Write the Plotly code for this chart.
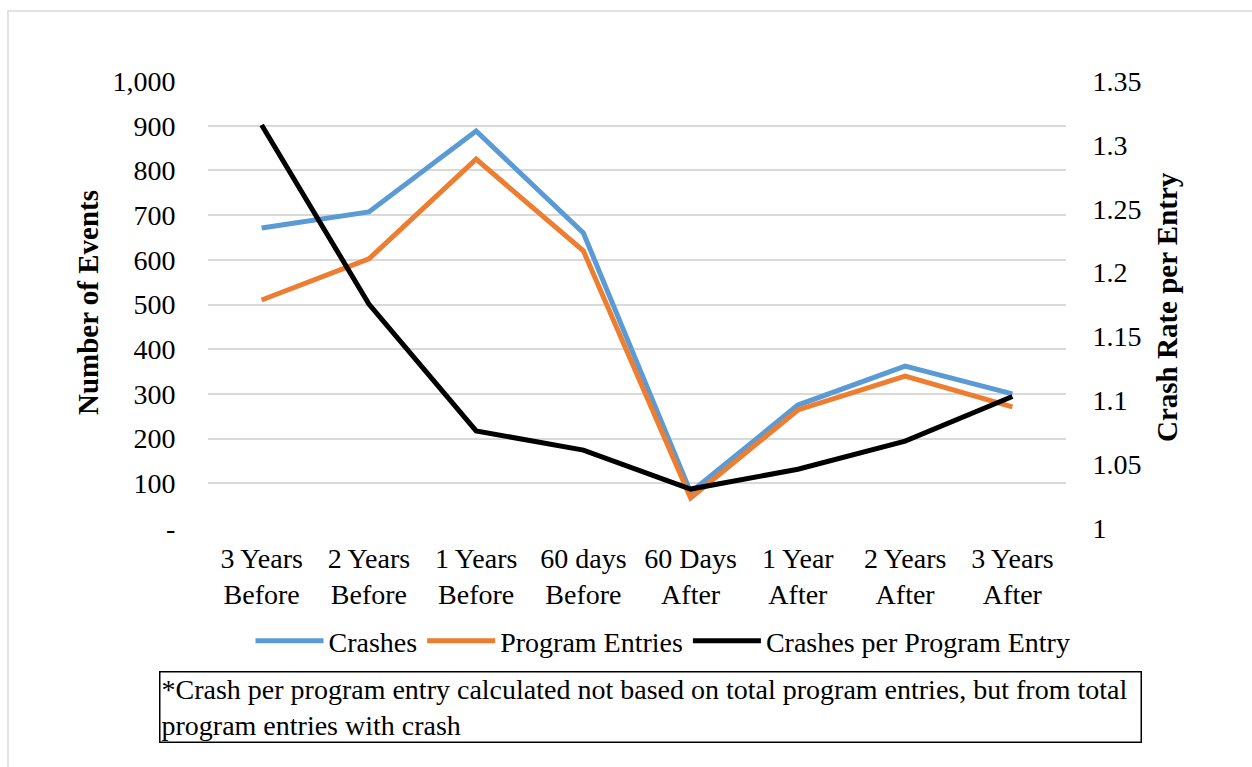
import plotly.graph_objects as go

categories = ["3 Years<br>Before", "2 Years<br>Before", "1 Years<br>Before", "60 days<br>Before",
              "60 Days<br>After", "1 Year<br>After", "2 Years<br>After", "3 Years<br>After"]
crashes = [671, 707, 888, 660, 80, 275, 362, 300]
program_entries = [510, 602, 825, 620, 67, 264, 340, 271]
crash_rate = [1.3156, 1.1754, 1.076, 1.061, 1.0305, 1.046, 1.068, 1.103]

left_tickvals = [0, 100, 200, 300, 400, 500, 600, 700, 800, 900, 1000]
left_ticktext = ["-", "100", "200", "300", "400", "500", "600", "700", "800", "900", "1,000"]
right_tickvals = [1.0, 1.05, 1.1, 1.15, 1.2, 1.25, 1.3, 1.35]
right_ticktext = ["1", "1.05", "1.1", "1.15", "1.2", "1.25", "1.3", "1.35"]

note_text = ("*Crash per program entry calculated not based on total program entries, but from total<br>"
             "program entries with crash")

FONT = "Liberation Serif"
FS = 28

fig = go.Figure()
fig.add_trace(go.Scatter(x=categories, y=crashes, name="Crashes", mode="lines",
                         line=dict(color="#5b9bd5", width=5)))
fig.add_trace(go.Scatter(x=categories, y=program_entries, name="Program Entries", mode="lines",
                         line=dict(color="#ed7d31", width=5)))
fig.add_trace(go.Scatter(x=categories, y=crash_rate, name="Crashes per Program Entry", mode="lines",
                         line=dict(color="#000000", width=5), yaxis="y2"))

L, R, T, B = 208, 186, 81, 239
W, H = 1252, 767
pw, ph = W - L - R, H - T - B

def px(x):
    return (x - L) / pw

def py(y):
    return (H - B - y) / ph

fig.update_layout(
    width=W, height=H,
    margin=dict(l=L, r=R, t=T, b=B),
    paper_bgcolor="white", plot_bgcolor="white",
    font=dict(family=FONT, size=FS, color="#000000"),
    showlegend=True,
    legend=dict(orientation="h", x=px(663), y=py(641), xanchor="center", yanchor="middle",
                font=dict(family=FONT, size=FS, color="#000000"), itemwidth=68, tracegroupgap=0,
                bgcolor="rgba(0,0,0,0)"),
    xaxis=dict(type="category", range=[-0.5, 7.5], showgrid=False, showline=False,
               zeroline=False, ticks="outside", ticklen=5, tickcolor="rgba(0,0,0,0)",
               tickfont=dict(family=FONT, size=FS), fixedrange=True),
    yaxis=dict(range=[0, 1000], tickvals=left_tickvals, ticktext=left_ticktext,
               showgrid=True, gridcolor="#d9d9d9", gridwidth=1.5, zeroline=False,
               showline=False, ticks="outside", ticklen=26, tickcolor="rgba(0,0,0,0)",
               tickfont=dict(family=FONT, size=FS)),
    yaxis2=dict(range=[1.0, 1.35], tickvals=right_tickvals, ticktext=right_ticktext,
                overlaying="y", side="right", showgrid=False, zeroline=False,
                showline=False, ticks="outside", ticklen=20, tickcolor="rgba(0,0,0,0)",
                tickfont=dict(family=FONT, size=FS)),
    shapes=[
        dict(type="rect", xref="paper", yref="paper",
             x0=px(8), y0=py(790), x1=px(1300), y1=py(11),
             line=dict(color="#d9d9d9", width=1.5), fillcolor="rgba(0,0,0,0)", layer="below"),
    ],
    annotations=[
        dict(text="<b>Number of Events</b>", xref="paper", yref="paper",
             x=px(88), y=py(302), xanchor="center", yanchor="middle",
             textangle=-90, showarrow=False, font=dict(family=FONT, size=29)),
        dict(text="<b>Crash Rate per Entry</b>", xref="paper", yref="paper",
             x=px(1167), y=py(307), xanchor="center", yanchor="middle",
             textangle=-90, showarrow=False, font=dict(family=FONT, size=29)),
        dict(text=note_text, xref="paper", yref="paper",
             x=px(159), y=py(671), xanchor="left", yanchor="top", align="left",
             showarrow=False, bordercolor="#000000", borderwidth=1.5, borderpad=1,
             width=978, font=dict(family=FONT, size=FS)),
    ],
)

fig.write_html("out.html")
